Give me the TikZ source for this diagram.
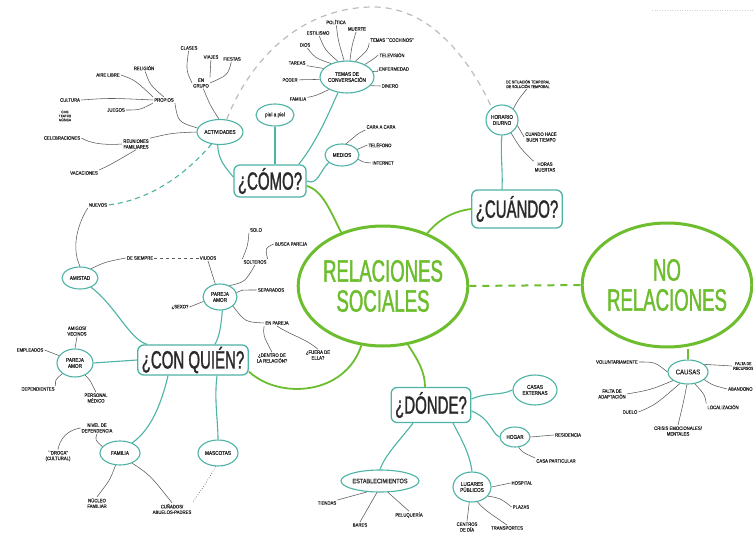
\documentclass[tikz,border=0pt]{standalone}
\usepackage{fontspec}
\setmainfont{Liberation Sans}
\newfontfamily\bigf[FakeStretch=0.6,FakeBold=1.2]{Liberation Sans}
\newfontfamily\smf[FakeStretch=0.85,FakeBold=0.4]{Liberation Sans}
\usetikzlibrary{shapes.geometric}
\definecolor{tealc}{HTML}{4DB3A5}
\definecolor{grn}{HTML}{6DBE2E}
\definecolor{ink}{HTML}{2A2A2A}
\definecolor{lnk}{HTML}{5A5A5A}
\definecolor{dashc}{HTML}{BDBDBD}
\tikzset{
  core/.style={ellipse, draw=grn, line width=3pt, fill=white, text=grn, align=center,
    inner sep=0pt, font=\bigf\fontsize{31}{30}\selectfont},
  qbox/.style={draw=tealc, line width=1.3pt, rounded corners=6pt, fill=white, text=ink,
    inner xsep=4pt, inner ysep=0pt, font=\bigf\fontsize{25}{25}\selectfont},
  sub/.style={ellipse, draw=tealc, line width=1.1pt, fill=white, text=ink, align=center,
    inner sep=0pt, font=\smf\fontsize{5.5}{6}\selectfont},
  leaf/.style={text=ink, align=center, inner sep=1pt, font=\smf\fontsize{5}{5.6}\selectfont},
  br/.style={draw=tealc, line width=1.1pt},
  lk/.style={draw=lnk, line width=0.55pt},
  gr/.style={draw=grn, line width=1.8pt},
}
\begin{document}
\begin{tikzpicture}[x=1pt,y=-1pt]
\useasboundingbox (0,0) rectangle (753,535);
\fill[white] (0,0) rectangle (753,535);
\clip (0,0) rectangle (753,535);

% faint header rule, top right
\coordinate (hr1) at (652,10);
\coordinate (hr2) at (753,10);
\draw[dashc!70, dotted, line width=0.5pt] (hr1) -- (hr2);

% ---------- main nodes ----------
\node[core, minimum width=154, minimum height=120] (rs) at (383,286) {RELACIONES\\SOCIALES};
\node[core, minimum width=156, minimum height=124] (nr) at (667,285) {NO\\RELACIONES};

\node[qbox, minimum height=32] (q1) at (270,181) {¿CÓMO?};
\node[qbox, minimum height=38] (q2) at (517,209) {¿CUÁNDO?};
\node[qbox, minimum height=30] (q3) at (193,360) {¿CON QUIÉN?};
\node[qbox, minimum height=35] (q4) at (431,405) {¿DÓNDE?};

% ---------- green links ----------
\draw[gr] (rs.128) .. controls (330,210) and (322,190) .. ([yshift=-5pt]q1.east);
\draw[gr] (rs.50) .. controls (440,218) and (455,211) .. (q2.west);
\draw[gr] (rs.-110) .. controls (345,395) and (280,400) .. ([yshift=4pt]q3.south east);
\draw[gr] (rs.-67) .. controls (418,360) and (425,372) .. ([xshift=-6pt]q4.north);
\draw[grn, line width=2pt, dash pattern=on 7pt off 6pt] (rs.east) -- (nr.west);

% ---------- ¿CÓMO? ----------
\node[sub, minimum width=38, minimum height=22] (pie) at (275,115) {piel a piel};
\draw[br] (pie) -- (pie.south |- q1.north);

\node[sub, minimum width=54, minimum height=32] (temas) at (347,77) {TEMAS DE\\CONVERSACIÓN};
\draw[br] ([xshift=-8pt]q1.north east) .. controls (318,140) and (330,110) .. (temas.240);
\node[leaf] (pol) at (336,22) {POLÍTICA};
\node[leaf] (mue) at (357,29) {MUERTE};
\node[leaf] (tco) at (392,40) {TEMAS ``COCHINOS''};
\node[leaf] (est) at (318,33) {ESTILISMO};
\node[leaf] (dio) at (305,45) {DIOS};
\node[leaf] (tar) at (297,63) {TAREAS};
\node[leaf] (pod) at (290,80) {PODER};
\node[leaf] (fa2) at (298,99) {FAMILIA};
\node[leaf] (tel) at (392,55) {TELEVISIÓN};
\node[leaf] (enf) at (394,69) {ENFERMEDAD};
\node[leaf] (din) at (390,86) {DINERO};
\draw[lk] (pol) .. controls (338,40) .. (temas.100);
\draw[lk] (mue) .. controls (352,45) .. (temas.80);
\draw[lk] (tco.south west) .. controls (368,50) .. (temas.62);
\draw[lk] (est) .. controls (325,50) .. (temas.120);
\draw[lk] (dio) .. controls (315,58) .. (temas.140);
\draw[lk] (tar) .. controls (315,68) .. (temas.160);
\draw[lk] (pod) -- (temas.185);
\draw[lk] (fa2) .. controls (315,96) .. (temas.215);
\draw[lk] (tel.west) .. controls (375,58) .. (temas.35);
\draw[lk] (enf.west) .. controls (378,72) .. (temas.12);
\draw[lk] (din.west) .. controls (378,86) .. (temas.-20);

\node[sub, minimum width=34, minimum height=22] (med) at (342,155) {MEDIOS};
\draw[br] (q1.east) .. controls (318,186) and (320,170) .. (med.210);
\node[leaf] (car) at (381,127) {CARA A CARA};
\node[leaf] (tlf) at (380,145) {TELÉFONO};
\node[leaf] (int) at (383,163) {INTERNET};
\draw[lk] (car.south west) .. controls (360,132) .. (med.70);
\draw[lk] (tlf.west) .. controls (362,148) .. (med.20);
\draw[lk] (int.west) .. controls (362,162) .. (med.-15);

% actividades
\node[sub, minimum width=46, minimum height=25] (act) at (220,132) {ACTIVIDADES};
\draw[br] (act.-100) .. controls (218,160) and (226,168) .. ([yshift=4pt]q1.west);
\node[leaf] (grp) at (201,83) {EN\\GRUPO};
\node[leaf] (cla) at (189,48) {CLASES};
\node[leaf] (via) at (211,57) {VIAJES};
\node[leaf] (fie) at (232,59) {FIESTAS};
\draw[lk] (grp) .. controls (210,105) .. (act.95);
\draw[lk] (cla) .. controls (186,70) .. (grp.west);
\draw[lk] (via) -- (grp.north east);
\draw[lk] (fie) .. controls (228,75) .. (grp.east);
\node[leaf] (pro) at (164,100) {PROPIOS};
\node[leaf] (rel) at (144,68) {RELIGIÓN};
\node[leaf] (air) at (108,75) {AIRE LIBRE};
\node[leaf] (cul) at (70,100) {CULTURA};
\node[leaf, font=\smf\fontsize{3.6}{4}\selectfont] (cin) at (65,116) {CINE\\TEATRO\\MÚSICA};
\node[leaf] (jue) at (116,110) {JUEGOS};
\draw[lk] (pro.south east) .. controls (178,122) .. (act.170);
\draw[lk] (rel) .. controls (150,85) .. (pro.north);
\draw[lk] (air.east) .. controls (135,80) .. (pro.north west);
\draw[lk] (cul.east) .. controls (110,98) .. (pro.west);
\draw[lk] (jue.east) .. controls (140,110) .. (pro.south west);
\node[leaf] (reu) at (136,144) {REUNIONES\\FAMILIARES};
\node[leaf] (cel) at (62,138) {CELEBRACIONES};
\node[leaf] (vac) at (84,173) {VACACIONES};
\draw[lk] (reu.north east) .. controls (172,133) .. (act.west);
\draw[lk] (cel.east) .. controls (85,140) and (95,146) .. (reu.west);
\draw[lk] (vac.north east) .. controls (110,165) .. (reu.south);

% ---------- ¿CUÁNDO? ----------
\node[sub, minimum width=32, minimum height=30] (hor) at (502,120) {HORARIO\\DIURNO};
\draw[br] (hor.south) .. controls (500,150) and (503,170) .. (hor.south |- q2.north);
\node[leaf, font=\smf\fontsize{4}{4.6}\selectfont] (sit) at (528,84) {DE SITUACIÓN TEMPORAL\\DE SOLUCIÓN TEMPORAL};
\node[leaf] (cua) at (541,137) {CUANDO HACE\\BUEN TIEMPO};
\node[leaf] (hmu) at (545,167) {HORAS\\MUERTAS};
\draw[lk] (sit.-105) .. controls (518,100) .. (hor.45);
\draw[lk] (hor.-20) -- (cua.west);
\draw[lk] (hor.-55) .. controls (520,148) .. (hmu.north west);

% dashed arcs
\coordinate (arctop) at (372,7);
\draw[dashc, line width=1.2pt, dash pattern=on 6pt off 5pt]
  (act.62) .. controls (250,60) and (300,8) .. (arctop)
  .. controls (430,6) and (470,60) .. (hor.130);

% ---------- ¿CON QUIÉN? ----------
\node[sub, minimum width=36, minimum height=22] (ami) at (80,278) {AMISTAD};
\draw[br] (ami.-40) .. controls (115,305) and (130,340) .. ([xshift=10pt]q3.north west);
\node[leaf] (nue) at (98,205) {NUEVOS};
\draw[lk] (ami.north) .. controls (70,245) and (80,220) .. (nue.south west);
\draw[tealc, line width=1.1pt, dash pattern=on 5pt off 4pt] (act.235) .. controls (185,175) and (150,200) .. (nue.east);
\node[leaf] (dsi) at (140,258) {DE SIEMPRE};
\node[leaf] (viu) at (208,258) {VIUDOS};
\draw[lk] (ami.40) .. controls (105,262) .. (dsi.west);
\draw[lk, dashed] (dsi.east) -- (viu.west);

\node[sub, minimum width=34, minimum height=26] (pa1) at (220,297) {PAREJA\\AMOR};
\draw[br] (pa1.-80) .. controls (221,325) and (220,335) .. ([xshift=22pt]q3.north);
\draw[lk] (viu.south) -- (pa1.110);
\node[leaf] (sex) at (180,307) {¿SEXO?};
\draw[lk] (sex.east) -- (pa1.195);
\node[leaf] (sol) at (255,262) {SOLTEROS};
\node[leaf] (solo) at (256,230) {SOLO};
\node[leaf] (bpa) at (291,244) {BUSCA PAREJA};
\draw[lk] (pa1.50) .. controls (245,282) .. (sol.south);
\draw[lk] (sol.north west) .. controls (248,245) .. (solo.south west);
\draw[lk] (sol.north east) .. controls (265,248) .. (bpa.west);
\node[leaf] (sep) at (271,290) {SEPARADOS};
\draw[lk] (pa1.15) .. controls (240,290) .. (sep.west);
\node[leaf] (enp) at (277,323) {EN PAREJA};
\draw[lk] (pa1.-35) .. controls (245,322) .. (enp.west);
\node[leaf] (den) at (272,358) {¿DENTRO DE\\LA RELACIÓN?};
\node[leaf] (fue) at (318,355) {¿FUERA DE\\ELLA?};
\draw[lk] (enp.south west) .. controls (263,335) .. (den.north);
\draw[lk] (enp.south) .. controls (290,335) and (305,338) .. (fue.north);

\node[sub, minimum width=36, minimum height=28] (pa2) at (75,363) {PAREJA\\AMOR};
\draw[br] (pa2.east) -- (q3.west);
\node[leaf] (amv) at (77,331) {AMIGOS/\\VECINOS};
\node[leaf] (emp) at (30,350) {EMPLEADOS};
\node[leaf] (dep) at (38,389) {DEPENDIENTES};
\node[leaf] (per) at (96,398) {PERSONAL\\MÉDICO};
\draw[lk] (amv.south) -- (pa2.north);
\draw[lk] (emp.east) -- (pa2.155);
\draw[lk] (dep.north east) .. controls (55,380) .. (pa2.-140);
\draw[lk] (pa2.-50) .. controls (90,380) .. (per.north);

\node[sub, minimum width=40, minimum height=24] (fam) at (120,453) {FAMILIA};
\draw[br] ([xshift=-25pt]q3.south) .. controls (160,410) and (148,432) .. (fam.40);
\node[leaf] (niv) at (97,428) {NIVEL DE\\DEPENDENCIA};
\node[leaf] (dro) at (58,456) {``DROGA''\\(CULTURAL)};
\node[leaf] (nuc) at (97,503) {NÚCLEO\\FAMILIAR};
\node[leaf] (cun) at (172,509) {CUÑADOS/\\ABUELOS-PADRES};
\draw[lk] (niv.south) .. controls (95,440) .. (fam.160);
\draw[lk] (niv.west) .. controls (68,430) and (60,438) .. (dro.north);
\draw[lk] (fam.-110) .. controls (110,480) .. (nuc.north);
\draw[lk] (fam.-40) .. controls (150,475) .. (cun.north);

\node[sub, minimum width=40, minimum height=26] (mas) at (218,453) {MASCOTAS};
\draw[br] ([xshift=24pt]q3.south) .. controls (214,400) and (218,420) .. (mas.north);
\draw[lk, dotted, line width=0.8pt] (mas.-100) .. controls (208,480) .. (cun.north east);

% ---------- ¿DÓNDE? ----------
\node[sub, minimum width=44, minimum height=30] (cex) at (535,390) {CASAS\\EXTERNAS};
\draw[br] ([yshift=6pt]q4.east) .. controls (488,392) and (500,396) .. (cex.west);
\node[sub, minimum width=30, minimum height=20] (hog) at (515,437) {HOGAR};
\draw[br] ([yshift=-6pt]q4.east) .. controls (490,418) and (492,434) .. (hog.west);
\node[leaf] (res) at (568,435) {RESIDENCIA};
\node[leaf] (cpa) at (556,461) {CASA PARTICULAR};
\draw[lk] (hog.east) -- (res.west);
\draw[lk] (hog.-70) .. controls (522,452) .. (cpa.north west);

\node[sub, minimum width=78, minimum height=22, font=\smf\fontsize{6.5}{7}\selectfont] (estb) at (380,481) {ESTABLECIMIENTOS};
\draw[br] ([xshift=-18pt]q4.south) .. controls (400,440) and (385,455) .. (estb.north);
\node[leaf] (tie) at (327,503) {TIENDAS};
\node[leaf] (bar) at (360,525) {BARES};
\node[leaf] (pel) at (409,515) {PELUQUERÍA};
\draw[lk] (estb.-140) -- (tie.north east);
\draw[lk] (estb.-105) -- (bar.north);
\draw[lk] (estb.-55) -- (pel.north);

\node[sub, minimum width=38, minimum height=30] (lug) at (472,487) {LUGARES\\PÚBLICOS};
\draw[br] ([xshift=22pt]q4.south) .. controls (462,440) and (470,455) .. (lug.north);
\node[leaf] (hos) at (522,483) {HOSPITAL};
\node[leaf] (pla) at (521,507) {PLAZAS};
\node[leaf] (tra) at (507,528) {TRANSPORTES};
\node[leaf] (cen) at (467,527) {CENTROS\\DE DÍA};
\draw[lk] (lug.east) -- (hos.west);
\draw[lk] (lug.-30) .. controls (500,498) .. (pla.west);
\draw[lk] (lug.-70) .. controls (485,510) .. (tra.north);
\draw[lk] (lug.-100) -- (cen.north);

% ---------- NO RELACIONES ----------
\node[sub, minimum width=40, minimum height=24, font=\smf\fontsize{7}{7.5}\selectfont] (cau) at (688,372) {CAUSAS};
\draw[gr] (cau.north) -- (cau.north |- nr.south);
\node[leaf] (vol) at (617,362) {VOLUNTARIAMENTE};
\node[leaf] (fad) at (612,394) {FALTA DE\\ADAPTACIÓN};
\node[leaf] (due) at (630,412) {DUELO};
\node[leaf] (cri) at (678,431) {CRISIS EMOCIONALES/\\MENTALES};
\node[leaf] (loc) at (723,407) {LOCALIZACIÓN};
\node[leaf, anchor=west] (aba) at (727,389) {ABANDONO};
\node[leaf, anchor=west, font=\smf\fontsize{4.2}{4.8}\selectfont] (frc) at (732,366) {FALTA DE\\RECURSOS};
\draw[lk] (vol.east) .. controls (655,362) .. (cau.west);
\draw[lk] (fad.east) .. controls (650,390) .. (cau.-150);
\draw[lk] (due.east) .. controls (655,405) .. (cau.-125);
\draw[lk] (cau.-95) .. controls (684,400) .. (cri.north);
\draw[lk] (cau.-60) .. controls (705,395) .. (loc.north west);
\draw[lk] (cau.-25) .. controls (712,385) .. (aba.west);
\draw[lk] (cau.25) .. controls (715,365) .. (frc.west);
\end{tikzpicture}
\end{document}
